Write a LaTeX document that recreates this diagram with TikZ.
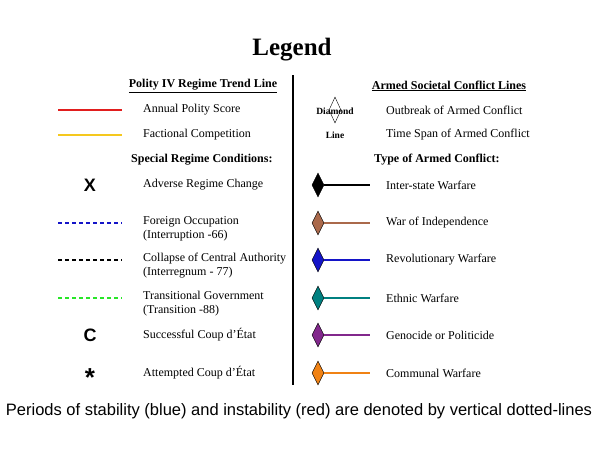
\documentclass[tikz,border=0pt]{standalone}
\usepackage{fontspec}
\setmainfont{Liberation Serif}
\newfontfamily\arialf{Liberation Sans}
\usetikzlibrary{shapes.geometric}
\definecolor{cbrown}{RGB}{170,105,75}
\definecolor{cblue}{RGB}{20,20,200}
\definecolor{cteal}{RGB}{0,128,128}
\definecolor{cpurple}{RGB}{130,40,140}
\definecolor{corange}{RGB}{240,130,20}
\definecolor{cred}{RGB}{225,30,30}
\definecolor{cyel}{RGB}{245,200,30}
\definecolor{cgreen}{RGB}{40,230,40}
\begin{document}
\begin{tikzpicture}[x=1pt,y=-1pt,
  lbl/.style={anchor=west,font=\fontsize{12}{14}\selectfont,align=left,inner sep=0},
  hdr/.style={font=\bfseries\fontsize{12}{14}\selectfont,inner sep=0},
  sym/.style={font=\arialf\bfseries\fontsize{18}{18}\selectfont,inner sep=0},
  dsh/.style={line width=1.5pt,dash pattern=on 4pt off 3pt},
  dia/.style={diamond,draw=black,fill=#1,minimum width=12pt,minimum height=24pt,inner sep=0,aspect=0.5},
  cl/.style={line width=1.6pt}]
\useasboundingbox (0,0) rectangle (600,450);
\node[font=\bfseries\fontsize{25}{28}\selectfont] (title) at (292,50) {Legend};
\draw[line width=1.2pt] (293,75) coordinate (dv1) -- (293,385) coordinate (dv2);
\node[hdr] (h1) at (203,86) {\underline{Polity IV Regime Trend Line}};
\node[hdr] (h2) at (449,86) {\underline{Armed Societal Conflict Lines}};
\node[hdr,anchor=west] (h3) at (131,160) {Special Regime Conditions:};
\node[hdr,anchor=west] (h4) at (374,160) {Type of Armed Conflict:};
% left
\coordinate (a1) at (58,110); \coordinate (a2) at (122,110);
\draw[cred,line width=1.6pt] (a1)--(a2);
\node[lbl] (t1) at (143,110) {Annual Polity Score};
\coordinate (b1) at (58,135); \coordinate (b2) at (122,135);
\draw[cyel,line width=1.6pt] (b1)--(b2);
\node[lbl] (t2) at (143,135) {Factional Competition};
\node[sym] (sx) at (90,185) {X};
\node[lbl] (t3) at (143,185) {Adverse Regime Change};
\coordinate (c1) at (58,223); \coordinate (c2) at (122,223);
\draw[dsh,cblue] (c1)--(c2);
\node[lbl] (t4) at (143,229) {Foreign Occupation\\(Interruption -66)};
\coordinate (d1) at (58,260); \coordinate (d2) at (122,260);
\draw[dsh,black] (d1)--(d2);
\node[lbl] (t5) at (143,266) {Collapse of Central Authority\\(Interregnum - 77)};
\coordinate (e1) at (58,298); \coordinate (e2) at (122,298);
\draw[dsh,cgreen] (e1)--(e2);
\node[lbl] (t6) at (143,304) {Transitional Government\\(Transition -88)};
\node[sym] (sc) at (90,335) {C};
\node[lbl] (t7) at (143,335) {Successful Coup d'État};
\node[sym,font=\arialf\bfseries\fontsize{26}{26}\selectfont] (ss) at (90,378) {*};
\node[lbl] (t8) at (143,373) {Attempted Coup d'État};
% right
\node[dia=white,minimum height=26pt,minimum width=12pt] (dd) at (335,110) {};
\node[font=\bfseries\fontsize{9.5}{9.5}\selectfont,inner sep=0] at (335,111) {Diamond};
\node[lbl] (r1) at (386,110) {Outbreak of Armed Conflict};
\node[font=\bfseries\fontsize{9.5}{9.5}\selectfont,inner sep=0] (ln) at (335,135) {Line};
\node[lbl] (r2) at (386,135) {Time Span of Armed Conflict};
\foreach \y/\c/\t [count=\i] in {185/black/Inter-state Warfare,223/cbrown/War of Independence,260/cblue/Revolutionary Warfare,298/cteal/Ethnic Warfare,335/cpurple/Genocide or Politicide,373/corange/Communal Warfare}{
  \node[dia=\c] (dm\i) at (318,\y) {};
  \coordinate (de\i) at (370,\y);
  \draw[cl,\c] (dm\i.east)--(de\i);
  \node[lbl] (rt\i) at (386,\y) {\t};
}
\node[font=\arialf\fontsize{16.5}{18}\selectfont,inner sep=0] (cap) at (299,411) {Periods of stability (blue) and instability (red) are denoted by vertical dotted-lines};
\end{tikzpicture}
\end{document}
